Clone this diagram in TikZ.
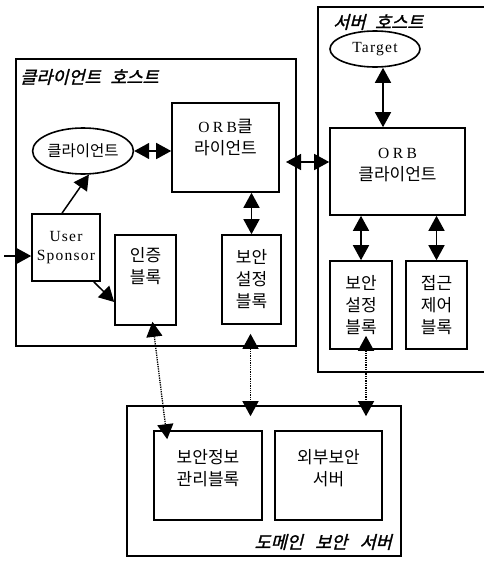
\documentclass[tikz,border=0pt]{standalone}
\usepackage{fontspec}
\setmainfont{Liberation Serif}
\newfontfamily\kr{Noto Sans CJK KR}
\newfontfamily\krlab{Noto Sans CJK KR}[FakeSlant=0.25,FakeBold=1.5]
\newfontfamily\lat{Liberation Serif}[LetterSpace=8]
\newfontfamily\orbf{Liberation Serif}[LetterSpace=22]
\usetikzlibrary{arrows.meta,calc,shapes.geometric}
\newcommand{\wsp}{\hspace{0.55em}}
\tikzset{
  >={Triangle[length=15pt,width=16pt]},
  grp/.style={draw, line width=1.6pt},
  box/.style={draw, line width=1.6pt, inner sep=0pt},
  kt/.style={font=\kr\fontsize{17}{22}\selectfont, align=center, inner sep=0pt},
  lt/.style={font=\lat\fontsize{15.5}{19}\selectfont, align=center, inner sep=0pt},
  lab/.style={font=\krlab\fontsize{17.5}{20}\selectfont, inner sep=0pt},
  arr/.style={line width=1.5pt, ->},
  biarr/.style={line width=1.5pt, <->},
  dotarr/.style={line width=1.3pt, densely dotted, <->}
}
\begin{document}
\begin{tikzpicture}[x=1pt,y=-1pt]
\useasboundingbox (0,0) rectangle (484,562);
% group boxes
\node[grp, minimum width=280pt, minimum height=287pt] (chost) at (156,202.5) {};
\coordinate (sA) at (488,7);
\coordinate (sB) at (318,372);
\draw[grp] (sA) -| (sB) -- (sB -| sA);
\node[grp, minimum width=274pt, minimum height=150pt] (dom) at (264,481) {};
% group labels
\node[lab, anchor=west] (lc) at (20,77) {클라이언트\wsp 호스트};
\node[lab, anchor=west] (ls) at (333,22) {서버\wsp 호스트};
\node[lab, anchor=east] (ld) at (392,542) {도메인\hspace{0.7em}보안\hspace{0.7em}서버};
% client host
\node[box, ellipse, minimum width=92pt, minimum height=46pt,
      font=\kr\fontsize{15.5}{18}\selectfont] (ell) at (83,151) {클라이언트};
\node[box, minimum width=107pt, minimum height=89pt] (orbC) at (225.5,147.5) {};
\node[kt] (orbCt) at (225.5,138) {{\orbf\fontsize{15.5}{18}\selectfont ORB}클\\라이언트};
\node[box, minimum width=68pt, minimum height=67pt, lt] (us) at (66,247.5) {User\\Sponsor};
\node[box, minimum width=61pt, minimum height=90pt] (auth) at (145.5,280) {};
\node[kt] (autht) at (145.5,266) {인증\\블록};
\node[box, minimum width=59pt, minimum height=89pt, kt] (secC) at (251.5,279.5) {보안\\설정\\블록};
% server host
\node[box, ellipse, minimum width=90pt, minimum height=36pt, lt] (target) at (375,49) {Target};
\node[box, minimum width=135pt, minimum height=87pt] (orbS) at (397.5,171.5) {};
\node[kt] (orbSt) at (397.5,165) {{\orbf\fontsize{15.5}{18}\selectfont ORB}\\클라이언트};
\node[box, minimum width=62pt, minimum height=88pt, kt] (secS) at (361,305) {보안\\설정\\블록};
\node[box, minimum width=61pt, minimum height=88pt, kt] (acc) at (436.5,305) {접근\\제어\\블록};
% domain
\node[box, minimum width=108pt, minimum height=89pt] (mgmt) at (208,475.5) {};
\node[kt] (mgmtt) at (208,468.5) {보안정보\\관리블록};
\node[box, minimum width=107pt, minimum height=89pt] (ext) at (328.5,475.5) {};
\node[kt] (extt) at (328.5,468.5) {외부보안\\서버};
% connectors
\coordinate (in) at (4,256);
\draw[arr] (in) -- (in -| us.west);
\draw[arr] ($(us.north)+(-4,0)$) -- (ell.-76);
\draw[arr] ($(us.south east)+(-7,0)$) -- ($(auth.west)+(0,22)$);
\draw[biarr] (ell.east) -- (ell.east -| orbC.west);
\draw[biarr] (secC.north |- orbC.south) -- (secC.north);
\coordinate (lk) at (286,162);
\draw[biarr] (lk) -- (lk -| orbS.west);
\draw[biarr] ($(target.south)+(8,0)$) -- ($(target.south |- orbS.north)+(8,0)$);
\draw[biarr] (secS.north |- orbS.south) -- (secS.north);
\draw[biarr] (acc.north |- orbS.south) -- (acc.north);
\draw[dotarr] ($(auth.south)+(7,-4)$) -- ($(mgmt.north west)+(14,9)$);
\draw[dotarr] ($(secC.south)+(-1,9)$) -- ($(secC.south |- dom.north)+(-1,11)$);
\draw[dotarr] ($(secS.south)+(5,-14)$) -- ($(secS.south |- dom.north)+(5,11)$);
\end{tikzpicture}
\end{document}
